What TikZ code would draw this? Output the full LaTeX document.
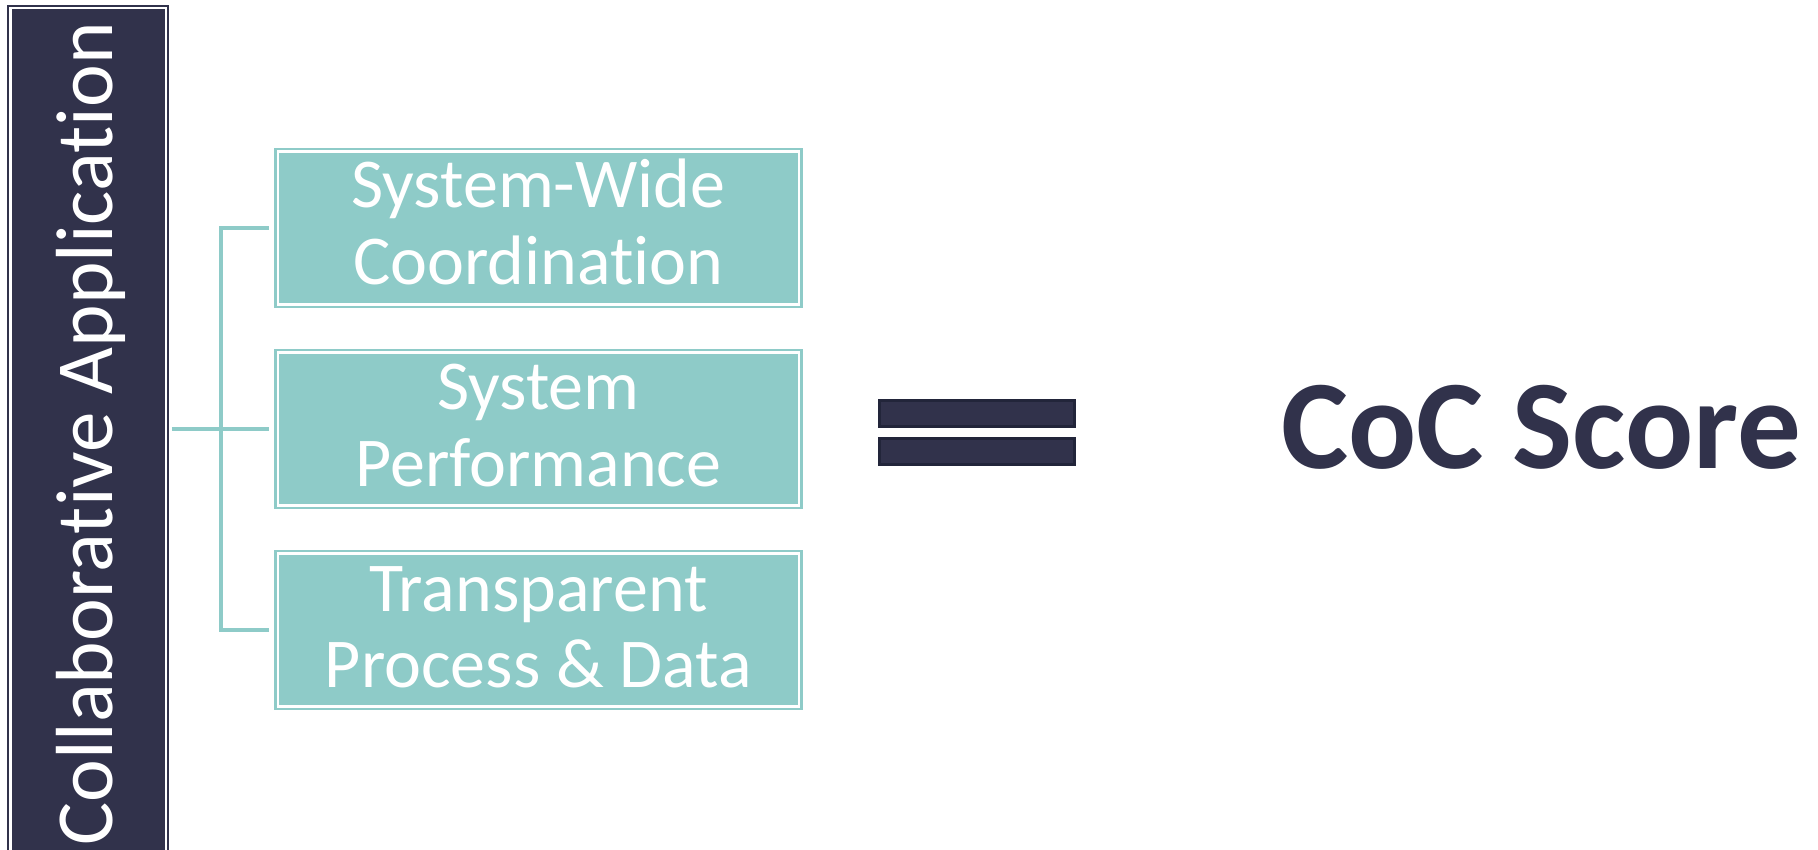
\documentclass[tikz,border=0pt]{standalone}
\usepackage{fontspec}
\setmainfont[RawFeature={-liga;-clig;-dlig}]{Carlito}
\definecolor{navy}{HTML}{31324B}
\definecolor{navyedge}{HTML}{22253A}
\definecolor{tealbox}{HTML}{8ECBC8}
\begin{document}
\begin{tikzpicture}[x=1pt,y=-1pt,
  barbox/.style={fill=navy, draw=navy, double=white, line width=2pt, double distance=2.5pt,
    minimum width=155.5pt, minimum height=848pt, inner sep=0pt, outer sep=0pt},
  tbox/.style={fill=tealbox, draw=tealbox, double=white, line width=2.6pt, double distance=2.6pt,
    minimum width=521pt, minimum height=153pt, inner sep=0pt, outer sep=0pt},
  boxtext/.style={text=white, anchor=base, font=\fontsize{70}{80}\selectfont, inner sep=0pt},
  conn/.style={draw=tealbox, line width=3.8pt},
  eqbar/.style={fill=navy, draw=navyedge, line width=3pt, minimum width=195pt, minimum height=26pt, inner sep=0pt}]
\clip (0,0) rectangle (1818,850);
\fill[white] (0,0) rectangle (1818,850);
% left bar
\node[barbox] (bar) at (88,432) {};
\node[rotate=90, anchor=base west, text=white, inner sep=0pt,
  font=\fontsize{81}{97}\selectfont] (bartext) at (112,846) {Collaborative Application};
% boxes
\node[tbox] (b1) at (538.4,228) {};
\node[tbox] (b2) at (538.4,429) {};
\node[tbox] (b3) at (538.4,630) {};
\node[boxtext] (t1a) at (538.4,208) {System-Wide};
\node[boxtext] (t1b) at (538.4,285) {Coordination};
\node[boxtext] (t2a) at (538.4,409) {System};
\node[boxtext] (t2b) at (538.4,486) {Performance};
\node[boxtext] (t3a) at (538.4,611) {Transparent};
\node[boxtext] (t3b) at (538.4,687) {Process \& Data};
% connectors
\coordinate (fork) at (221,429);
\draw[conn, shorten <=6pt, shorten >=9pt] (bar.east |- b2.west) -- (b2.west);
\draw[conn] ([xshift=-9pt]b1.west) -| (fork) |- ([xshift=-9pt]b3.west);
% equals sign
\node[eqbar] (eq1) at (977,413.8) {};
\node[eqbar] (eq2) at (977,451.5) {};
% result
\node[anchor=base west, text=navy, inner sep=0pt,
  font=\fontsize{127}{146}\selectfont\bfseries] (score) at (1281,468) {CoC Score};
\end{tikzpicture}
\end{document}
